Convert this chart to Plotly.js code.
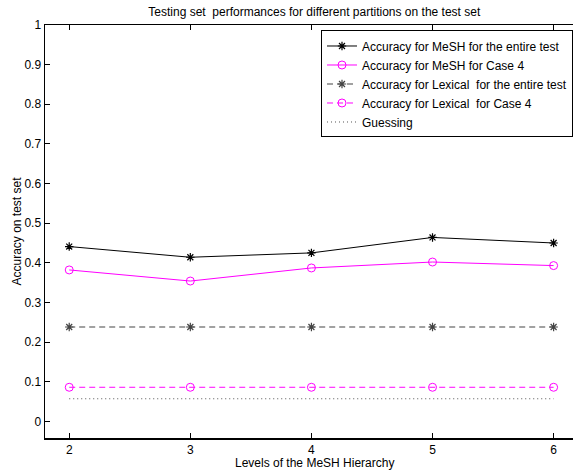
<!DOCTYPE html>
<html>
<head>
<meta charset="utf-8">
<script src="https://cdn.plot.ly/plotly-3.0.1.min.js"></script>
<style>html,body{margin:0;padding:0;background:#fff;overflow:hidden}#chart{width:573px;height:471px}</style>
</head>
<body>
<div id="chart"></div>
<script>
const levels = [2, 3, 4, 5, 6];
const meshEntire = [0.441, 0.414, 0.425, 0.464, 0.450];
const meshCase4 = [0.382, 0.354, 0.387, 0.402, 0.393];
const lexicalEntire = [0.238, 0.238, 0.238, 0.238, 0.238];
const lexicalCase4 = [0.086, 0.086, 0.086, 0.086, 0.086];
const guessing = [0.057, 0.057, 0.057, 0.057, 0.057];
const seriesNames = [
  'Accuracy for MeSH for the entire test',
  'Accuracy for MeSH for Case 4',
  'Accuracy for Lexical\u00a0 for the entire test',
  'Accuracy for Lexical\u00a0 for Case 4',
  'Guessing'
];
const yTicks = [0, 0.1, 0.2, 0.3, 0.4, 0.5, 0.6, 0.7, 0.8, 0.9, 1];
const yTickText = ['0', '0.1', '0.2', '0.3', '0.4', '0.5', '0.6', '0.7', '0.8', '0.9', '1'];
const chartTitle = 'Testing set\u00a0 performances for different partitions on the test set';
const xTitle = 'Levels of the MeSH Hierarchy';
const yTitle = 'Accuracy on test set';

const FONT = 'Liberation Sans, Arial, Helvetica, sans-serif';
const FS = 12;
const MAG = '#ff00ff';
const MB = 33, MT = 24.5, H = 471;
const PH = H - MB - MT;

const traces = [
  {x: levels, y: meshEntire, name: seriesNames[0], mode: 'lines+markers',
   line: {color: '#000', width: 1},
   marker: {symbol: 'asterisk-open', size: 7, line: {color: '#000', width: 1.2}}},
  {x: levels, y: meshCase4, name: seriesNames[1], mode: 'lines+markers',
   line: {color: MAG, width: 1},
   marker: {symbol: 'circle-open', size: 8, color: MAG, line: {color: MAG, width: 1}}},
  {x: levels, y: lexicalEntire, name: seriesNames[2], mode: 'lines+markers',
   line: {color: '#444', width: 1.2, dash: '6px,4px'},
   marker: {symbol: 'asterisk-open', size: 7, line: {color: '#000', width: 1.2}}},
  {x: levels, y: lexicalCase4, name: seriesNames[3], mode: 'lines+markers',
   line: {color: MAG, width: 1, dash: '6px,4px'},
   marker: {symbol: 'circle-open', size: 8, color: MAG, line: {color: MAG, width: 1}}},
  {x: levels, y: guessing, name: seriesNames[4], mode: 'lines',
   line: {color: '#555', width: 1, dash: '1px,3px'}}
];

const layout = {
  width: 573, height: H,
  paper_bgcolor: '#fff', plot_bgcolor: '#fff',
  font: {family: FONT, size: FS, color: '#000'},
  margin: {l: 45, r: 0, t: MT, b: MB, pad: 0},
  title: {text: chartTitle, font: {family: FONT, size: FS, color: '#000'},
          xref: 'paper', x: 0.51, xanchor: 'center', yref: 'container', y: 1 - 12/471, yanchor: 'middle'},
  xaxis: {
    range: [1.8, 6.16], tickvals: levels, ticktext: levels.map(String),
    ticks: 'inside', ticklen: 5, tickwidth: 1, tickcolor: '#000',
    showline: true, linecolor: '#000', linewidth: 1.5, mirror: 'ticks',
    showgrid: false, zeroline: false,
    tickfont: {family: FONT, size: FS, color: '#000'}
  },
  yaxis: {
    range: [-0.042, 1.0], tickvals: yTicks, ticktext: yTickText,
    ticks: 'inside', ticklen: 5, tickwidth: 1, tickcolor: '#000',
    showline: true, linecolor: '#000', linewidth: 1.5, mirror: false,
    showgrid: false, zeroline: false,
    tickfont: {family: FONT, size: FS, color: '#000'},
    title: {text: yTitle, font: {family: FONT, size: FS, color: '#000'}, standoff: 0}
  },
  annotations: [{
    text: xTitle, xref: 'paper', yref: 'paper', x: 0.51, xanchor: 'center',
    y: -(MB + 0.5) / PH, yanchor: 'bottom', showarrow: false,
    font: {family: FONT, size: FS, color: '#000'}, borderpad: 0
  }],
  showlegend: true,
  legend: {
    x: 1, xanchor: 'right', y: 1 - 5.5 / PH, yanchor: 'top',
    bgcolor: '#fff', bordercolor: '#000', borderwidth: 1,
    font: {family: FONT, size: FS, color: '#000'},
    tracegroupgap: 0
  }
};

Plotly.newPlot('chart', traces, layout, {displayModeBar: false, staticPlot: true});
</script>
</body>
</html>
